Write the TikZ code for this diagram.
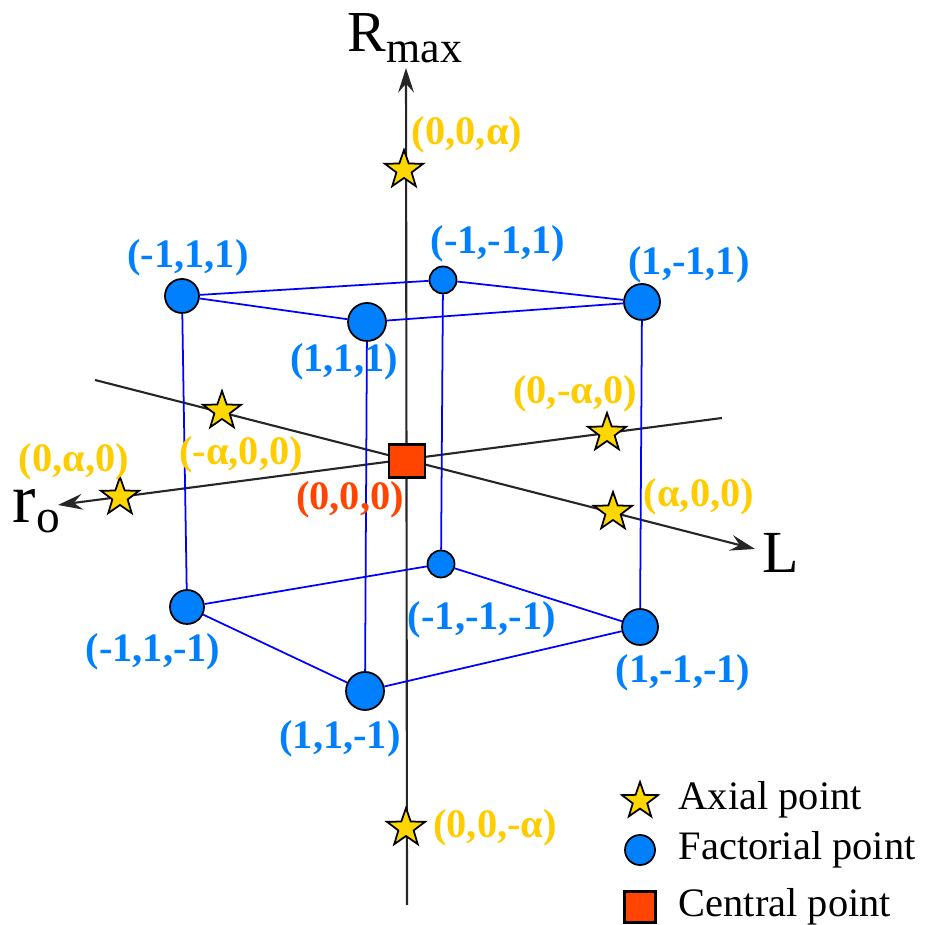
\documentclass[tikz,border=0pt]{standalone}
\usepackage{fontspec}
\setmainfont{LiberationSerif}[Extension=.ttf,UprightFont=*-Regular,BoldFont=*-Bold,ItalicFont=*-Italic,BoldItalicFont=*-BoldItalic]
\usetikzlibrary{shapes.geometric,arrows.meta}
\definecolor{factblue}{HTML}{0080FF}
\definecolor{edgeblue}{HTML}{0000FF}
\definecolor{axialgold}{HTML}{FFCC00}
\definecolor{starfill}{HTML}{FFD700}
\definecolor{centred}{HTML}{FF4500}
\tikzset{
  axisline/.style={draw=black!85,line width=0.6pt,-{Stealth[length=7pt,width=4.5pt,inset=2.5pt]}},
  cubeedge/.style={draw=edgeblue,line width=0.5pt},
  factorial/.style={circle,draw=black,line width=0.5pt,fill=factblue,inner sep=0pt},
  axial/.style={star,star points=5,star point ratio=2.5,draw=black,line width=0.5pt,fill=starfill,inner sep=0pt,minimum size=0.40cm},
  central/.style={rectangle,draw=black,line width=0.6pt,fill=centred,inner sep=0pt},
  factlbl/.style={font=\rmfamily\fontsize{11.5}{13}\selectfont\bfseries,text=factblue,inner sep=0pt},
  axlbl/.style={font=\rmfamily\fontsize{11.5}{13}\selectfont\bfseries,text=axialgold,inner sep=0pt},
  legendtxt/.style={font=\rmfamily\fontsize{11.5}{13}\selectfont,anchor=base west,inner sep=0pt}
}
\begin{document}
\begin{tikzpicture}
  \useasboundingbox (0,0) rectangle (9.24,9.25);
  \coordinate (rbot) at (4.07,0.20);
  \coordinate (rtop) at (4.06,8.57);
  \coordinate (rostart) at (7.22,5.07);
  \coordinate (rotip) at (0.58,4.20);
  \coordinate (lstart) at (0.95,5.45);
  \coordinate (ltip) at (7.55,3.76);
  \draw[axisline] (rbot) -- (rtop);
  \draw[axisline] (rostart) -- (rotip);
  \draw[axisline] (lstart) -- (ltip);
  \node[anchor=base,inner sep=0pt,font=\rmfamily\fontsize{16.5}{18}\selectfont] (rmax) at (4.05,8.73) {R\raisebox{-3pt}{\fontsize{12.5}{14}\selectfont max}};
  \node[anchor=base west,inner sep=0pt,font=\rmfamily\fontsize{20}{22}\selectfont] (ro) at (0.12,4.02) {r\raisebox{-2.8pt}{\fontsize{13.5}{15}\selectfont o}};
  \node[anchor=base west,inner sep=0pt,font=\rmfamily\fontsize{17}{19}\selectfont] (lname) at (7.62,3.52) {L};

  \node[factlbl] (lm11) at (1.88,6.67) {(-1,1,1)};
  \node[factlbl] (lmm1) at (4.98,6.81) {(-1,-1,1)};
  \node[factlbl] (l1m1) at (6.89,6.60) {(1,-1,1)};
  \node[factlbl] (l111) at (3.44,5.63) {(1,1,1)};
  \node[factlbl] (lm1m) at (1.53,2.73) {(-1,1,-1)};
  \node[factlbl] (lmmm) at (4.82,3.05) {(-1,-1,-1)};
  \node[factlbl] (l1mm) at (6.83,2.52) {(1,-1,-1)};
  \node[factlbl] (l11m) at (3.40,1.86) {(1,1,-1)};

  \node[factorial,minimum size=0.34cm] (fm11) at (1.82,6.29) {};
  \node[factorial,minimum size=0.38cm] (f111) at (3.67,6.03) {};
  \node[factorial,minimum size=0.27cm] (fmm1) at (4.43,6.45) {};
  \node[factorial,minimum size=0.36cm] (f1m1) at (6.42,6.23) {};
  \node[factorial,minimum size=0.34cm] (fm1m) at (1.87,3.18) {};
  \node[factorial,minimum size=0.38cm] (f11m) at (3.65,2.34) {};
  \node[factorial,minimum size=0.27cm] (fmmm) at (4.41,3.61) {};
  \node[factorial,minimum size=0.36cm] (f1mm) at (6.40,2.98) {};
  \draw[cubeedge] (fm11) -- (f111) -- (f1m1) -- (fmm1) -- (fm11);
  \draw[cubeedge] (fm1m) -- (f11m) -- (f1mm) -- (fmmm) -- (fm1m);
  \foreach \a/\b in {fm11/fm1m,f111/f11m,fmm1/fmmm,f1m1/f1mm}
    \draw[cubeedge] (\a) -- (\b);

  \node[axial] (apz) at (4.04,7.55) {};
  \node[axial] (amz) at (4.06,0.97) {};
  \node[axial] (amx) at (2.22,5.14) {};
  \node[axial] (apy) at (1.20,4.28) {};
  \node[axial] (amy) at (6.07,4.92) {};
  \node[axial] (apx) at (6.13,4.13) {};
  \node[axlbl] (lapz) at (4.67,7.90) {(0,0,α)};
  \node[axlbl] (lamz) at (4.95,0.97) {(0,0,-α)};
  \node[axlbl] (lamx) at (2.41,4.70) {(-α,0,0)};
  \node[axlbl] (lapy) at (0.74,4.63) {(0,α,0)};
  \node[axlbl] (lamy) at (5.75,5.31) {(0,-α,0)};
  \node[axlbl] (lapx) at (6.99,4.28) {(α,0,0)};

  \node[central,minimum width=0.36cm,minimum height=0.33cm] (origin) at (4.07,4.64) {};
  \node[factlbl,text=centred] (lorigin) at (3.50,4.25) {(0,0,0)};

  \node[axial,minimum size=0.38cm] (keyaxial) at (6.40,1.24) {};
  \node[factorial,minimum size=0.30cm] (keyfact) at (6.40,0.75) {};
  \node[central,minimum size=0.31cm] (keycent) at (6.40,0.18) {};
  \node[legendtxt] (txtaxial) at (6.78,1.15) {Axial point};
  \node[legendtxt] (txtfact) at (6.78,0.65) {Factorial point};
  \node[legendtxt] (txtcent) at (6.78,0.08) {Central point};
\end{tikzpicture}
\end{document}
